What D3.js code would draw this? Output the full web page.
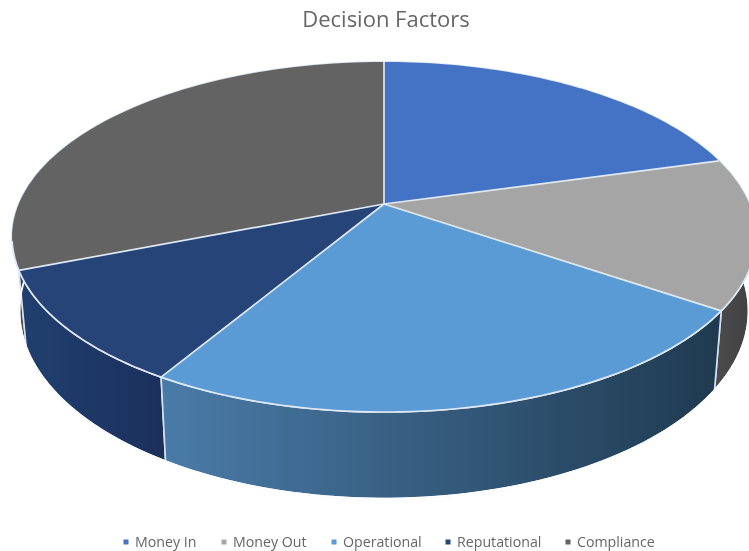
<!DOCTYPE html>
<html><head><meta charset="utf-8">
<script src="https://cdn.jsdelivr.net/npm/d3@7"></script>
<style>html,body{margin:0;padding:0;background:#fff;overflow:hidden}svg{display:block;filter:blur(.55px)}</style>
</head><body><svg id="c" width="749" height="551"></svg>
<script>
const title = "Decision Factors";
const categories = ["Money In","Money Out","Operational","Reputational","Compliance"];
const values = [20.7,13.9,24,10.5,31];
const colors = ["#4472C4","#A5A5A5","#5B9BD5","#264478","#636363"];
const wallFrom = ["#2f5597","#4d4d4d","#4a7ba8","#21406f","#4a4a4a"];
const wallTo = ["#2f5597","#3f3f3f","#1f3a50","#1b2f5c","#3a3a3a"];
const legendX = [126,224,334,448,568];

const svg = d3.select("#c"), defs = svg.append("defs");
// Perspective projection of the pie's unit disc
const k=-0.1886, cx=384;
const top_={A:365.3,B:168.8,y0:204}, bot={A:358,B:181,y0:275.5};
const proj=(p,a)=>{const u=Math.sin(a),v=-Math.cos(a),w=1+k*v;return [cx+p.A*u/w,p.y0+p.B*v/w];};
const pie=d3.pie().sort(null).value(d=>d)(values);
const samples=(a,b)=>d3.range(0,61).map(i=>a+(b-a)*i/60);
const line=d3.line();
const edge="#dfe9f4";

// walls, back to front
[0,4,1,3,2].forEach(i=>{
  const s=pie[i], as=samples(s.startAngle,s.endAngle);
  const pts=as.map(a=>proj(top_,a)).concat(as.slice().reverse().map(a=>proj(bot,a)));
  const xs=pts.map(p=>p[0]);
  const id="w"+i;
  const g=defs.append("linearGradient").attr("id",id).attr("gradientUnits","userSpaceOnUse")
    .attr("x1",d3.min(xs)).attr("x2",d3.max(xs)).attr("y1",0).attr("y2",0);
  g.append("stop").attr("offset",0).attr("stop-color",wallFrom[i]);
  g.append("stop").attr("offset",1).attr("stop-color",wallTo[i]);
  svg.append("path").attr("d",line(pts)+"Z").attr("fill",`url(#${id})`)
    .attr("stroke","#d5e2ef").attr("stroke-width",1.6).attr("stroke-linejoin","round");
});
// clean outer wall edge
pie.forEach(s=>{
  svg.append("path").attr("d",line(samples(s.startAngle,s.endAngle).map(a=>proj(bot,a))))
    .attr("fill","none").attr("stroke","#fff").attr("stroke-width",1.8);
});
// top faces
pie.forEach((s,i)=>{
  const pts=[[cx,top_.y0]].concat(samples(s.startAngle,s.endAngle).map(a=>proj(top_,a)));
  svg.append("path").attr("d",line(pts)+"Z").attr("fill",colors[i]);
});
// spokes and the front rim of the top face
pie.forEach(s=>{
  svg.append("path").attr("d",line([[cx,top_.y0],proj(top_,s.startAngle)]))
    .attr("stroke",edge).attr("stroke-width",1.7).attr("fill","none");
  const front=samples(s.startAngle,s.endAngle).filter(a=>-Math.cos(a)>0.19);
  if(front.length>1) svg.append("path").attr("d",line(front.map(a=>proj(top_,a))))
    .attr("stroke",edge).attr("stroke-width",1.7).attr("fill","none");
});
// title
svg.append("text").attr("x",386).attr("y",27).attr("text-anchor","middle")
  .attr("font-family","'Open Sans',sans-serif").attr("font-size",22).attr("fill","#666").text(title);
// legend
categories.forEach((c,i)=>{
  svg.append("rect").attr("x",legendX[i]-2.5).attr("y",539.5).attr("width",5).attr("height",5).attr("fill",colors[i]);
  svg.append("text").attr("x",legendX[i]+9).attr("y",547)
    .attr("font-family","'Open Sans',sans-serif").attr("font-size",14.2).attr("fill","#666").text(c);
});
</script></body></html>
